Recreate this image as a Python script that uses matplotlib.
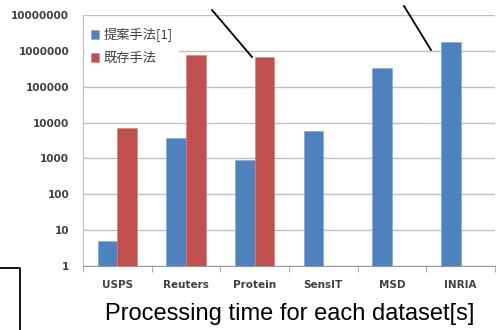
import matplotlib.pyplot as plt
import numpy as np
from matplotlib.lines import Line2D

# Data
datasets = ['USPS', 'Reuters', 'Protein', 'SensIT', 'MSD', 'INRIA']
proposed = [5, 3800, 900, 6000, 330000, 1800000]
existing = [7000, 790000, 680000, np.nan, np.nan, np.nan]
labels = ['提案手法[1]', '既存手法']
yticks = [1, 10, 100, 1000, 10000, 100000, 1000000, 10000000]

blue = '#4F81BD'
red = '#C0504D'

W, H = 502, 330
fig = plt.figure(figsize=(W / 100, H / 100), dpi=100)
ax = fig.add_axes([83 / W, 1 - 266 / H, (495 - 83) / W, (266 - 15) / H])

x = np.arange(len(datasets))
bw = 0.285
ax.bar(x - bw / 2, proposed, bw, color=blue, label=labels[0], zorder=3,
       edgecolor='#7FA3D0', linewidth=0.4)
ax.bar(x + bw / 2, existing, bw, color=red, label=labels[1], zorder=3,
       edgecolor='#D07F7D', linewidth=0.4)

ax.set_yscale('log')
ax.set_ylim(1, 1e7)
ax.set_xlim(-0.5, len(datasets) - 0.5)
ax.set_yticks(yticks)
ax.set_yticklabels([str(v) for v in yticks])
ax.minorticks_off()
ax.yaxis.grid(True, color='#BFBFBF', linewidth=1, zorder=0)
ax.set_axisbelow(True)

ax.set_xticks(x)
ax.set_xticklabels(datasets)
ax.set_xticks(np.arange(len(datasets) + 1) - 0.5, minor=True)
ax.tick_params(axis='x', which='major', length=0, pad=10)
ax.tick_params(axis='x', which='minor', length=4, color='#999999')
ax.tick_params(axis='y', length=0, pad=10)
for lab in ax.get_xticklabels() + ax.get_yticklabels():
    lab.set_fontsize(7.5)
    lab.set_fontweight('bold')
    lab.set_color('#404040')
    lab.set_family('DejaVu Sans')

for s in ['top', 'right']:
    ax.spines[s].set_visible(False)
ax.spines['left'].set_color('#BFBFBF')
ax.spines['bottom'].set_color('#999999')

leg = ax.legend(loc='upper left', bbox_to_anchor=(-0.01, 0.995), frameon=True,
                prop={'family': ['Noto Sans CJK JP', 'DejaVu Sans'], 'size': 9.5},
                handlelength=0.6, handleheight=0.6, handletextpad=0.4,
                labelspacing=0.75, borderpad=0.4, fancybox=False)
leg.get_frame().set_edgecolor('white')
leg.get_frame().set_facecolor('white')
leg.get_frame().set_alpha(1)
for t in leg.get_texts():
    t.set_color('#404040')

fig.text(290 / W, 1 - 314 / H, 'Processing time for each dataset[s]',
         family='Liberation Sans', fontsize=17, ha='center', va='center')

# callout lines and box edge drawn in figure pixel coords
def px_line(xs, ys):
    fig.add_artist(Line2D([v / W for v in xs], [1 - v / H for v in ys],
                          color='black', linewidth=1.3, transform=fig.transFigure))

px_line([212, 252], [10, 57])
px_line([404, 431], [6, 50])
px_line([0, 20, 20], [268, 268, 330])

fig.savefig('out.png', dpi=100)
